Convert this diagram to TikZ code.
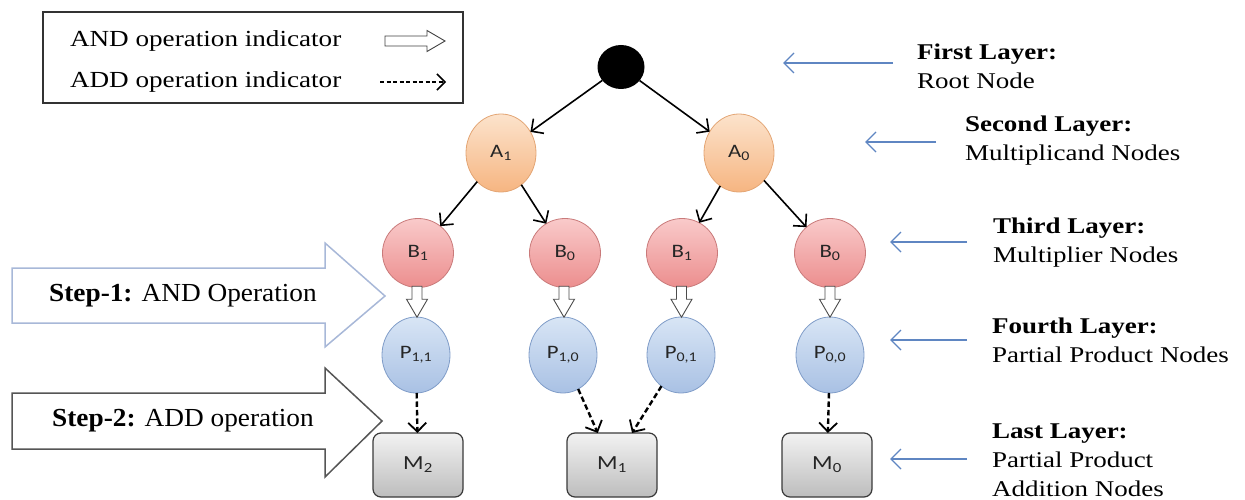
\documentclass[tikz,border=0pt]{standalone}
\usepackage{fontspec}
\setmainfont{Liberation Serif}
\newfontfamily\legfont[FakeStretch=1.18]{Liberation Serif}
\newfontfamily\layfont[FakeStretch=1.2]{Liberation Serif}
\newfontfamily\stepfont[FakeStretch=1.05]{Liberation Serif}
\newfontfamily\nodefont[FakeStretch=1.2]{Carlito}
\usetikzlibrary{arrows.meta,shapes.geometric,calc}
\definecolor{aborder}{HTML}{E3A574}
\definecolor{atop}{HTML}{FCE3CC}
\definecolor{abot}{HTML}{F6B581}
\definecolor{bborder}{HTML}{C97A7A}
\definecolor{btop}{HTML}{F9CACA}
\definecolor{bbot}{HTML}{EC8E8E}
\definecolor{pborder}{HTML}{7F9CC8}
\definecolor{ptop}{HTML}{D8E5F5}
\definecolor{pbot}{HTML}{A9C1E4}
\definecolor{mborder}{HTML}{3A3A3A}
\definecolor{mtop}{HTML}{F2F2F2}
\definecolor{mbot}{HTML}{BDBDBD}
\definecolor{layarrow}{HTML}{5F86C2}
\definecolor{step1col}{HTML}{A8B8D8}
\definecolor{step2col}{HTML}{555555}
\definecolor{labelcol}{HTML}{262626}
\tikzset{
  hollowdown/.pic={\draw[fill=white,draw=black!70,line width=0.9pt,line join=miter]
    (-5,-16) -- (5,-16) -- (5,-3) -- (10.5,-3) -- (0,15) -- (-10.5,-3) -- (-5,-3) -- cycle;},
  hollowright/.pic={\draw[fill=white,draw=black!75,line width=0.9pt,line join=miter]
    (-30,-5) -- (12,-5) -- (12,-10.5) -- (30,0) -- (12,10.5) -- (12,5) -- (-30,5) -- cycle;}
}
\begin{document}
\begin{tikzpicture}[x=1pt,y=-1pt,
  every node/.style={inner sep=0pt,outer sep=0pt},
  leg/.style={font=\legfont\fontsize{23}{27}\selectfont,anchor=west},
  lay/.style={font=\layfont\fontsize{22.5}{29}\selectfont,anchor=west,align=left},
  steptext/.style={font=\stepfont\fontsize{26}{30}\selectfont},
  bubble/.style={ellipse,line width=0.8pt,text=labelcol,font=\nodefont\fontsize{19}{21}\selectfont},
  anode/.style={bubble,draw=aborder,top color=atop,bottom color=abot,minimum width=70pt,minimum height=78pt},
  bnode/.style={bubble,draw=bborder,top color=btop,bottom color=bbot,minimum width=71pt,minimum height=69pt},
  pnode/.style={bubble,draw=pborder,top color=ptop,bottom color=pbot,minimum width=68pt,minimum height=76pt},
  mnode/.style={rectangle,rounded corners=8pt,draw=mborder,line width=1.2pt,top color=mtop,bottom color=mbot,minimum width=90pt,minimum height=64pt,text=labelcol,font=\nodefont\fontsize{20}{22}\selectfont},
  rootnode/.style={ellipse,fill=black,minimum width=47pt,minimum height=44pt},
  tree/.style={draw=black,line width=1.6pt,-{Straight Barb[length=9pt,width=18pt,line width=1.6pt]}},
  addarr/.style={draw=black,line width=2.4pt,dash pattern=on 5.5pt off 3pt,-{Straight Barb[length=9pt,width=18pt,line width=1.8pt]}},
  layarr/.style={draw=layarrow,line width=1.6pt,-{Straight Barb[length=10pt,width=20pt,line width=1.4pt]}},
  bigarrow/.style={fill=white,line width=1.5pt,line join=miter}
]
\useasboundingbox (0,0) rectangle (1245,500);

% legend
\node[draw=black!80,line width=1.2pt,minimum width=420pt,minimum height=91pt] (legbox) at (253,57.5) {};
\node[leg] (legand) at (70,41) {AND operation indicator};
\node[leg] (legadd) at (70,82) {ADD operation indicator};
\pic at (415,41) {hollowright};
\coordinate (legaddA) at (380,82);
\coordinate (legaddB) at (446,82);
\draw[addarr,line width=1.6pt,dash pattern=on 4pt off 2.5pt,-{Straight Barb[length=8pt,width=16pt,line width=1.5pt]}] (legaddA) -- (legaddB);

% tree nodes
\node[rootnode] (r) at (621,67) {};
\node[anode] (a1) at (501,153) {A\textsubscript{1}};
\node[anode] (a0) at (739,153) {A\textsubscript{0}};
\node[bnode] (b11) at (418,253) {B\textsubscript{1}};
\node[bnode] (b10) at (565,253) {B\textsubscript{0}};
\node[bnode] (b01) at (682,253) {B\textsubscript{1}};
\node[bnode] (b00) at (830,253) {B\textsubscript{0}};
\node[pnode] (p11) at (416,355) {P\textsubscript{1,1}};
\node[pnode] (p10) at (563,355) {P\textsubscript{1,0}};
\node[pnode] (p01) at (681,355) {P\textsubscript{0,1}};
\node[pnode] (p00) at (830,355) {P\textsubscript{0,0}};
\node[mnode] (m2) at (418,465) {M\textsubscript{2}};
\node[mnode] (m1) at (612,465) {M\textsubscript{1}};
\node[mnode] (m0) at (827,465) {M\textsubscript{0}};

% tree connectors
\draw[tree] (r) -- (a1);
\draw[tree] (r) -- (a0);
\draw[tree] (a1) -- (b11);
\draw[tree] (a1) -- (b10);
\draw[tree] (a0) -- (b01);
\draw[tree] (a0) -- (b00);

% AND arrows
\foreach \b/\p in {b11/p11,b10/p10,b01/p01,b00/p00}{
  \path ($(\b.south)!0.5!(\p.north)$) coordinate (mid\b);
  \pic at (mid\b) {hollowdown};
}

% ADD arrows
\draw[addarr] (p11) -- (m2);
\draw[addarr] (p10) -- (m1);
\draw[addarr] (p01) -- (m1);
\draw[addarr] (p00) -- (m0);

% step arrows
\draw[bigarrow,draw=step1col] (12,268) -- (325,268) -- (325,243) -- (385,296) -- (325,347) -- (325,323) -- (12,323) -- cycle;
\node[steptext] (s1) at (183,296) {\textbf{Step-1:} AND Operation};
\draw[bigarrow,draw=step2col] (12,393) -- (325,393) -- (325,368) -- (382,421) -- (325,477) -- (325,449) -- (12,449) -- cycle;
\node[steptext] (s2) at (183,421) {\textbf{Step-2:} ADD operation};

% layer labels
\node[lay] (l1) at (917,66) {\textbf{First Layer:}\\Root Node};
\node[lay] (l2) at (965,141) {\textbf{Second Layer:}\\Multiplicand Nodes};
\node[lay] (l3) at (993,243) {\textbf{Third Layer:}\\Multiplier Nodes};
\node[lay] (l4) at (992,340) {\textbf{Fourth Layer:}\\Partial Product Nodes};
\node[lay] (l5) at (992,460) {\textbf{Last Layer:}\\Partial Product\\Addition Nodes};
\coordinate (t1) at (783,63); \coordinate (f1) at (893,63);
\coordinate (t2) at (865,142); \coordinate (f2) at (936,142);
\coordinate (t3) at (890,242); \coordinate (f3) at (967,242);
\coordinate (t4) at (890,340); \coordinate (f4) at (967,340);
\coordinate (t5) at (890,459); \coordinate (f5) at (967,459);
\foreach \i in {1,...,5}{\draw[layarr] (f\i) -- (t\i);}
\end{tikzpicture}
\end{document}
